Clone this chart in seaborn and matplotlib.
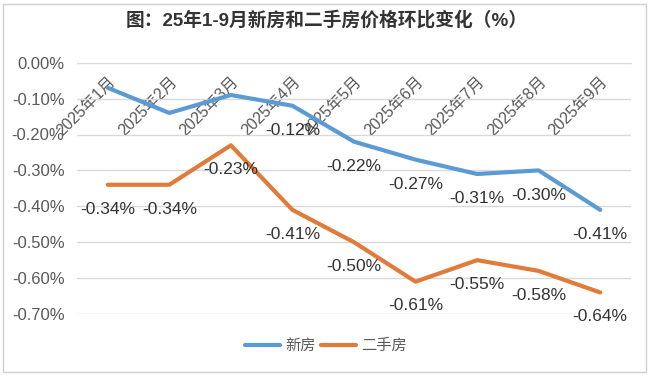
import numpy as np
import pandas as pd
import matplotlib.pyplot as plt
import matplotlib.patches as mpatches
import seaborn as sns

months = ["2025年1月", "2025年2月", "2025年3月", "2025年4月", "2025年5月",
          "2025年6月", "2025年7月", "2025年8月", "2025年9月"]
new_home = [-0.07, -0.14, -0.09, -0.12, -0.22, -0.27, -0.31, -0.30, -0.41]
second_home = [-0.34, -0.34, -0.23, -0.41, -0.50, -0.61, -0.55, -0.58, -0.64]
# 1-3月的新房数据标签在原图中被类别标签盖住了
new_home_labeled = [False, False, False, True, True, True, True, True, True]
yticks = [0.0, -0.1, -0.2, -0.3, -0.4, -0.5, -0.6, -0.7]

df = pd.DataFrame({"month": months, "新房": new_home, "二手房": second_home})
long_df = df.melt(id_vars="month", var_name="series", value_name="value")
long_df["x"] = long_df["month"].map({m: i for i, m in enumerate(months)})

sns.set_style("white")
plt.rcParams["font.family"] = ["Liberation Sans", "Noto Sans CJK SC", "DejaVu Sans"]

blue = "#5B9BD5"
orange = "#E07B39"
text_gray = "#595959"

fig = plt.figure(figsize=(6.53, 3.77), dpi=100)
ax = fig.add_axes([77 / 653, 1 - 314 / 377, (631 - 77) / 653, (314 - 62.7) / 377])

sns.lineplot(data=long_df, x="x", y="value", hue="series", hue_order=["新房", "二手房"],
             palette=[blue, orange], linewidth=3, ax=ax, legend=False, zorder=3)

# 数据标签（放在点的下方）
for i, v in enumerate(new_home):
    if new_home_labeled[i]:
        ax.annotate(f"{v:.2f}%", (i, v), xytext=(0, -18), textcoords="offset points",
                    ha="center", va="center", fontsize=12.5, color="#333333", zorder=4)
for i, v in enumerate(second_home):
    ax.annotate(f"{v:.2f}%", (i, v), xytext=(0, -17.5), textcoords="offset points",
                ha="center", va="center", fontsize=12.5, color="#333333", zorder=4)

ax.set_xlim(-0.5, len(months) - 0.5)
ax.set_ylim(-0.70, 0.0)
ax.set_yticks(yticks)
ax.set_yticklabels([f"{t:.2f}%" for t in yticks], fontsize=12, color=text_gray)
ax.yaxis.grid(True, color="#D9D9D9", linewidth=1)
ax.set_axisbelow(True)

# 类别轴在 0 处（顶部），标签向下倾斜
ax.spines["bottom"].set_position(("data", 0))
ax.spines["bottom"].set_color("#D9D9D9")
for s in ["top", "right", "left"]:
    ax.spines[s].set_visible(False)
ax.set_xticks(range(len(months)))
ax.set_xticklabels(months, rotation=45, ha="right", va="top", rotation_mode="anchor",
                   fontsize=11.5, color=text_gray)
ax.set_xticks(np.arange(-0.5, len(months), 1), minor=True)
ax.tick_params(axis="x", which="major", length=0, pad=8)
ax.tick_params(axis="x", which="minor", length=5, color="#D9D9D9", direction="out")
ax.tick_params(axis="y", length=0, pad=9)
for lbl in ax.get_xticklabels():
    lbl.set_zorder(5)
ax.set_xlabel("")
ax.set_ylabel("")

fig.suptitle("图：25年1-9月新房和二手房价格环比变化（%）", y=1 - 20 / 377, va="center",
             fontsize=13.5, fontweight="bold", color="#333333")

handles = [plt.Line2D([], [], color=blue, linewidth=3),
           plt.Line2D([], [], color=orange, linewidth=3)]
fig.legend(handles, ["新房", "二手房"], loc="center", bbox_to_anchor=(326 / 653, 1 - 346 / 377),
           ncol=2, frameon=False, fontsize=11, handlelength=2.3, handletextpad=0.35,
           columnspacing=0.3, labelcolor=text_gray)

fig.add_artist(mpatches.Rectangle((3 / 653, 1 - 372 / 377), 643 / 653, 368 / 377,
                                  transform=fig.transFigure, fill=False,
                                  edgecolor="#D0D0D0", linewidth=1))

fig.savefig("out.png", dpi=100)
